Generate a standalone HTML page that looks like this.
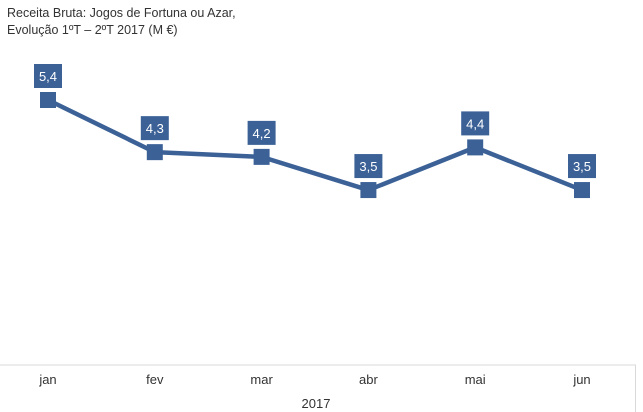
<!DOCTYPE html>
<html><head><meta charset="utf-8"><style>
body{margin:0;background:#fff;}
svg{display:block;font-family:"Liberation Sans",sans-serif;}
</style></head><body>
<svg width="643" height="412">
<text x="7" y="17" font-size="12.5" fill="#333">Receita Bruta: Jogos de Fortuna ou Azar,</text>
<text x="7" y="34" font-size="12.5" fill="#333">Evolução 1ºT – 2ºT 2017 (M €)</text>
<line x1="0" y1="365" x2="636" y2="365" stroke="#d9d9d9"/>
<line x1="635.5" y1="365" x2="635.5" y2="412" stroke="#d9d9d9"/>
<text x="316" y="408" font-size="13" fill="#333" text-anchor="middle">2017</text>
<g id="plot"></g>
</svg>
<script>
const categories=["jan","fev","mar","abr","mai","jun"];
const values=[5.4,4.3,4.2,3.5,4.4,3.5];
const labels=["5,4","4,3","4,2","3,5","4,4","3,5"];
const xs=i=>48+i*106.8;
const ys=v=>100+(5.4-v)*47.4;
const NS="http://www.w3.org/2000/svg";
const g=document.getElementById('plot');
const col="#3b6197";
const pl=document.createElementNS(NS,'polyline');
pl.setAttribute('points',values.map((v,i)=>xs(i)+','+ys(v)).join(' '));
pl.setAttribute('fill','none');pl.setAttribute('stroke',col);pl.setAttribute('stroke-width','4.5');pl.setAttribute('stroke-linejoin','round');


g.appendChild(pl);
values.forEach((v,i)=>{
 const x=xs(i),y=ys(v);
 const m=document.createElementNS(NS,'rect');
 m.setAttribute('x',x-8);m.setAttribute('y',y-8);m.setAttribute('width',16);m.setAttribute('height',16);m.setAttribute('fill',col);
 
 
 g.appendChild(m);
 const b=document.createElementNS(NS,'rect');
 b.setAttribute('x',x-14);b.setAttribute('y',y-36);b.setAttribute('width',28);b.setAttribute('height',24);b.setAttribute('fill',col);
 
 
 g.appendChild(b);
 const t=document.createElementNS(NS,'text');
 t.setAttribute('x',x);t.setAttribute('y',y-19);t.setAttribute('text-anchor','middle');t.setAttribute('font-size','13');t.setAttribute('fill','#fff');
 t.textContent=labels[i];
 
 
 g.appendChild(t);
 const c=document.createElementNS(NS,'text');
 c.setAttribute('x',x);c.setAttribute('y',384);c.setAttribute('text-anchor','middle');c.setAttribute('font-size','13');c.setAttribute('fill','#333');
 c.textContent=categories[i];
 
 
 g.appendChild(c);
});
</script>
</body></html>
